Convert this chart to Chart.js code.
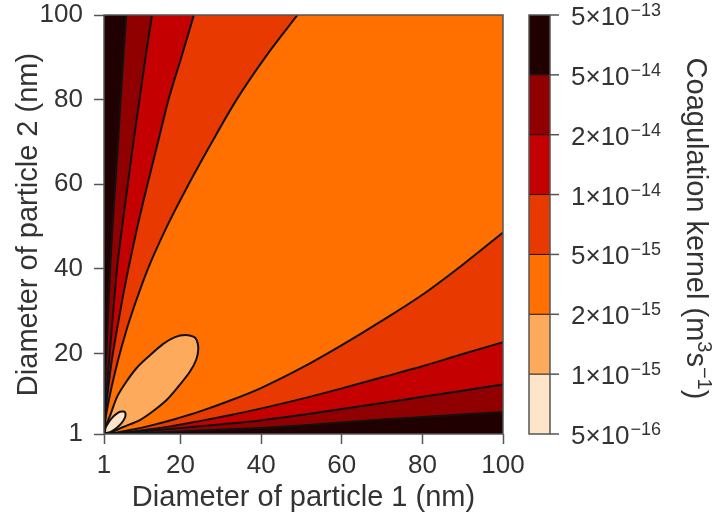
<!DOCTYPE html>
<html>
<head>
<meta charset="utf-8">
<script src="https://cdn.jsdelivr.net/npm/chart.js@4.4.0/dist/chart.umd.min.js"></script>
<style>
  html, body { margin: 0; padding: 0; background: #fff; }
</style>
</head>
<body>
<canvas id="kernelChart" width="714" height="522"></canvas>
<script>
// axis ticks
const xTicks = [1, 20, 40, 60, 80, 100];
const yTicks = [1, 20, 40, 60, 80, 100];

// colour bar levels, top to bottom (m^3 s^-1)
const levelMantissa = [5, 5, 2, 1, 5, 2, 1, 5];
const levelExponent = [-13, -14, -14, -14, -15, -15, -15, -16];
const bandColors = ['#200000', '#900000', '#c50000', '#e83a00', '#ff7000', '#fdaa5c', '#fee4c9'];

// contour lines, [d1, d2] in nm
// upper-left fan (d2 > d1)
const upper5e14 = [[1,1],[1.03,3],[1.12,7],[1.3,13],[1.6,20],[2.0,29],[2.5,39.8],[3.1,50],[3.8,60],[4.5,70],[5.1,80],[5.8,90],[6.5,100]];
const upper2e14 = [[1,1],[1.08,3],[1.3,7],[1.8,13],[2.4,20],[3.2,29],[4.2,39.8],[5.5,50],[6.9,60],[8.3,70],[9.8,80],[11.3,90],[12.9,100]];
const upper1e14 = [[1,1],[1.09,3],[1.4,6.5],[2.0,11.5],[2.8,17.5],[4.1,25],[5.5,32.5],[7.0,39.8],[9.3,50],[11.9,60.4],[14.4,70],[17.0,80],[20.2,90],[23.3,100]];
const upper5e15 = [[1,1],[1.3,4],[2.1,8.5],[3.1,13],[4.5,18.5],[6.4,25],[8.8,32],[11.8,39.8],[16.6,50],[22.0,60],[27.8,70],[33.9,80],[41.0,90],[49,100]];
// lower-right fan (d1 > d2)
const lower5e14 = [[1,1],[3,1.03],[7,1.12],[13,1.3],[20,1.6],[29,2.0],[39.8,2.4],[50,3.0],[60,3.7],[70,4.4],[80,5.0],[90,5.6],[100,6.2]];
const lower2e14 = [[1,1],[3,1.08],[7,1.3],[13,1.8],[20,2.4],[29,3.2],[39.8,4.2],[50,5.5],[60,6.9],[70,8.3],[80,9.8],[90,11.2],[100,12.7]];
const lower1e14 = [[1,1],[3,1.09],[6.5,1.4],[11.5,2.0],[17.5,2.8],[25,4.1],[32.5,5.5],[39.8,7.0],[50,9.3],[60.4,11.9],[70,14.4],[80,17.0],[90,19.9],[100,22.7]];
const lower5e15 = [[1,1],[4,1.3],[8.5,2.1],[13,3.1],[18.5,4.5],[25,6.4],[32,8.8],[39.8,11.8],[50,16.6],[60,22.0],[70,27.8],[80,33.9],[90,41.0],[100,48.6]];
// closed loops near the diagonal
const ellipse2e15 = [[1.2,1.2],[1.6,3.2],[2.6,5.6],[4.3,9.9],[6.5,13.3],[9.1,16.6],[12.4,19.6],[15.7,22.3],[18.6,23.9],[21.2,24.4],[23.2,24.0],[24.0,23.2],[24.4,21.2],[23.9,18.6],[22.3,15.7],[19.6,12.4],[16.6,9.1],[13.3,6.5],[9.9,4.3],[5.6,2.6],[3.2,1.6],[1.2,1.2]];
const ellipse1e15 = [[1.2,1.2],[1.4,2.5],[2.1,3.7],[3.0,4.8],[4.0,5.7],[5.0,6.25],[5.9,6.3],[6.3,5.9],[6.25,5.0],[5.7,4.0],[4.8,3.0],[3.7,2.1],[2.5,1.4],[1.2,1.2]];

const FONT = "'Liberation Sans', Arial, Helvetica, sans-serif";
const TEXT = '#333';
const LINE = '#111';

const toPts = arr => arr.map(([x, y]) => ({x, y}));
// area between an upper-left and a lower-right contour, closed through the top-right corner
const region = (upper, lower) => toPts([...upper, [100, 100], ...lower.slice().reverse()]);

const bands = [
    {upper: upper5e14, lower: lower5e14, color: bandColors[1]},
    {upper: upper2e14, lower: lower2e14, color: bandColors[2]},
    {upper: upper1e14, lower: lower1e14, color: bandColors[3]},
    {upper: upper5e15, lower: lower5e15, color: bandColors[4]}
];

const datasets = [];
bands.forEach((b, i) => {
    datasets.push({
        data: region(b.upper, b.lower),
        showLine: true,
        fill: 'shape',
        backgroundColor: b.color,
        borderColor: 'transparent',
        borderWidth: 0,
        pointRadius: 0,
        tension: 0,
        order: 20 - i
    });
    [b.upper, b.lower].forEach(curve => {
        datasets.push({
            data: toPts(curve),
            showLine: true,
            fill: false,
            borderColor: LINE,
            borderWidth: 2,
            pointRadius: 0,
            cubicInterpolationMode: 'monotone',
            order: 10
        });
    });
});
[[ellipse2e15, bandColors[5], 2], [ellipse1e15, bandColors[6], 1]].forEach(([loop, color, order]) => {
    datasets.push({
        data: toPts(loop),
        showLine: true,
        fill: 'shape',
        backgroundColor: color,
        borderColor: LINE,
        borderWidth: 2,
        pointRadius: 0,
        tension: 0.3,
        order
    });
});

// darkest level fills the whole plot area behind the bands
const backgroundPlugin = {
    id: 'plotBackground',
    beforeDatasetsDraw(chart) {
        const {ctx, chartArea: a} = chart;
        ctx.save();
        ctx.fillStyle = bandColors[0];
        ctx.fillRect(a.left, a.top, a.right - a.left, a.bottom - a.top);
        ctx.restore();
    },
    afterDatasetsDraw(chart) {
        const {ctx, chartArea: a} = chart;
        ctx.save();
        ctx.strokeStyle = '#555';
        ctx.lineWidth = 1.5;
        ctx.strokeRect(a.left, a.top, a.right - a.left, a.bottom - a.top);
        ctx.restore();
    }
};

const colorbarPlugin = {
    id: 'colorbar',
    afterDraw(chart) {
        const {ctx, chartArea: a} = chart;
        const left = 529, width = 21;
        const top = a.top, bottom = a.bottom;
        const step = (bottom - top) / bandColors.length;
        ctx.save();
        bandColors.forEach((c, i) => {
            ctx.fillStyle = c;
            ctx.fillRect(left, top + i * step, width, step);
        });
        ctx.strokeStyle = LINE;
        ctx.lineWidth = 1;
        for (let i = 1; i < bandColors.length; i++) {
            ctx.beginPath();
            ctx.moveTo(left, top + i * step);
            ctx.lineTo(left + width, top + i * step);
            ctx.stroke();
        }
        ctx.strokeStyle = '#555';
        ctx.lineWidth = 1.5;
        ctx.strokeRect(left, top, width, bottom - top);

        // ticks + labels like 5x10^-13
        ctx.fillStyle = TEXT;
        ctx.textAlign = 'left';
        ctx.textBaseline = 'alphabetic';
        levelMantissa.forEach((m, i) => {
            const y = top + i * step;
            ctx.strokeStyle = '#555';
            ctx.beginPath();
            ctx.moveTo(left + width, y);
            ctx.lineTo(left + width + 9, y);
            ctx.stroke();
            const main = m + '\u00d710';
            ctx.font = '26px ' + FONT;
            ctx.fillText(main, 571, y + 10);
            const w = ctx.measureText(main).width;
            ctx.font = '18px ' + FONT;
            ctx.fillText('\u2212' + Math.abs(levelExponent[i]), 571 + w + 1, y + 1);
        });

        // rotated title, reads top to bottom
        const parts = [
            ['Coagulation kernel (m', 29, 0],
            ['3', 20, -11],
            ['s', 29, 0],
            ['\u22121', 20, -11],
            [')', 29, 0]
        ];
        let total = 0;
        parts.forEach(p => { ctx.font = p[1] + 'px ' + FONT; total += ctx.measureText(p[0]).width; });
        ctx.translate(697, (top + bottom) / 2 + 4);
        ctx.rotate(Math.PI / 2);
        let x = -total / 2;
        parts.forEach(p => {
            ctx.font = p[1] + 'px ' + FONT;
            ctx.fillText(p[0], x, 10 + p[2]);
            x += ctx.measureText(p[0]).width;
        });
        ctx.restore();
    }
};

const axisCommon = {
    type: 'linear',
    min: 1,
    max: 100,
    grid: {
        display: true,
        drawOnChartArea: false,
        drawTicks: true,
        tickLength: 10,
        tickWidth: 1.5,
        tickColor: '#555'
    },
    border: { display: false }
};

new Chart(document.getElementById('kernelChart').getContext('2d'), {
    type: 'scatter',
    data: { datasets },
    options: {
        responsive: false,
        animation: false,
        events: [],
        layout: { padding: { top: 15, right: 211, bottom: 0, left: 0 } },
        plugins: {
            legend: { display: false },
            tooltip: { enabled: false }
        },
        scales: {
            x: {
                ...axisCommon,
                afterBuildTicks: s => { s.ticks = xTicks.map(v => ({value: v})); },
                afterFit: s => { s.height = 88; s.paddingLeft = 0; s.paddingRight = 0; },
                ticks: { color: TEXT, font: { family: FONT, size: 26 }, padding: 6, maxRotation: 0, autoSkip: false },
                title: { display: true, text: 'Diameter of particle 1 (nm)', color: TEXT, font: { family: FONT, size: 29 }, padding: { top: 0, bottom: 7 } }
            },
            y: {
                ...axisCommon,
                afterBuildTicks: s => { s.ticks = yTicks.map(v => ({value: v})); },
                afterFit: s => { s.width = 104; s.paddingTop = 0; s.paddingBottom = 0; },
                ticks: { color: TEXT, font: { family: FONT, size: 26 }, padding: 11, autoSkip: false },
                title: { display: true, text: 'Diameter of particle 2 (nm)', color: TEXT, font: { family: FONT, size: 29 }, padding: { top: 12, bottom: 0 } }
            }
        }
    },
    plugins: [backgroundPlugin, colorbarPlugin]
});
</script>
</body>
</html>
